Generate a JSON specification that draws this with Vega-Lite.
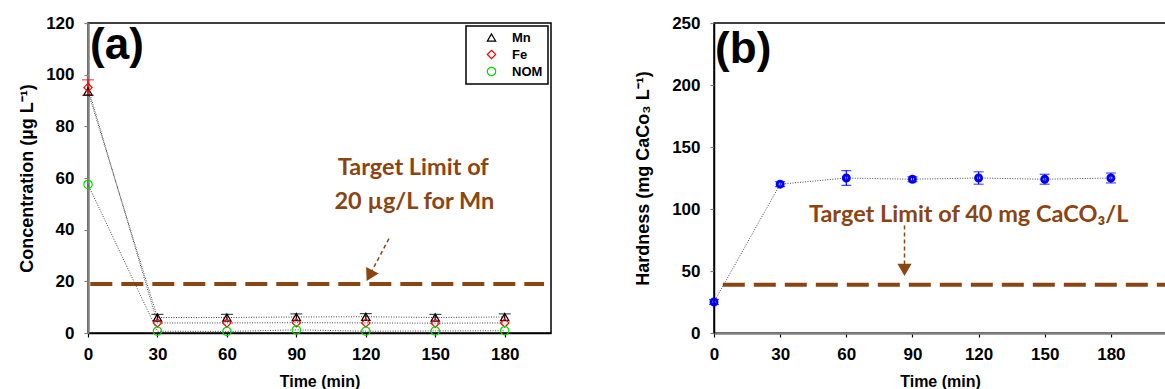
{
  "$schema": "https://vega.github.io/schema/vega-lite/v6.json",
  "background": "white",
  "padding": {"left": 17, "top": 13, "right": 0, "bottom": 0},
  "autosize": {"type": "pad"},
  "spacing": 163,
  "bounds": "flush",
  "config": {
    "view": {"stroke": "black", "strokeWidth": 1.5},
    "axis": {
      "grid": false,
      "labelFont": "Liberation Sans", "labelFontWeight": "bold", "labelFontSize": 17, "labelColor": "black",
      "titleFont": "Liberation Sans", "titleFontWeight": "bold", "titleFontSize": 16, "titleColor": "black",
      "tickSize": 4, "labelFlush": false, "labelOverlap": false
    },
    "legend": {
      "orient": "none", "legendX": 378, "legendY": 3,
      "strokeColor": "black", "strokeWidth": 1.5, "fillColor": "white", "padding": 5, "title": null,
      "labelFont": "Liberation Sans", "labelFontWeight": "bold", "labelFontSize": 13, "labelColor": "black",
      "symbolSize": 70, "symbolStrokeWidth": 1.2, "rowPadding": 2, "symbolOffset": 14, "labelOffset": 14,
      "symbolFillColor": "white"
    }
  },
  "datasets": {
    "conc": [
      {"t": 0, "v": 93.5, "series": "Mn"},
      {"t": 30, "v": 6, "series": "Mn", "lo": 5, "hi": 7.2},
      {"t": 60, "v": 6, "series": "Mn", "lo": 5, "hi": 7.2},
      {"t": 90, "v": 6.2, "series": "Mn", "lo": 5.2, "hi": 7.4},
      {"t": 120, "v": 6.3, "series": "Mn", "lo": 5.3, "hi": 7.5},
      {"t": 150, "v": 6, "series": "Mn", "lo": 5, "hi": 7.2},
      {"t": 180, "v": 6.2, "series": "Mn", "lo": 5.2, "hi": 7.4},
      {"t": 0, "v": 95, "series": "Fe", "lo": 92, "hi": 98},
      {"t": 30, "v": 3.9, "series": "Fe"},
      {"t": 60, "v": 3.9, "series": "Fe"},
      {"t": 90, "v": 4, "series": "Fe"},
      {"t": 120, "v": 3.9, "series": "Fe"},
      {"t": 150, "v": 3.8, "series": "Fe"},
      {"t": 180, "v": 3.9, "series": "Fe"},
      {"t": 0, "v": 57.5, "series": "NOM"},
      {"t": 30, "v": 0.7, "series": "NOM"},
      {"t": 60, "v": 0.6, "series": "NOM"},
      {"t": 90, "v": 1.2, "series": "NOM"},
      {"t": 120, "v": 0.7, "series": "NOM"},
      {"t": 150, "v": 0.8, "series": "NOM"},
      {"t": 180, "v": 0.9, "series": "NOM"}
    ],
    "hard": [
      {"t": 0, "v": 25, "lo": 23, "hi": 27},
      {"t": 30, "v": 120, "lo": 118, "hi": 122},
      {"t": 60, "v": 125, "lo": 119, "hi": 131},
      {"t": 90, "v": 124, "lo": 122, "hi": 126},
      {"t": 120, "v": 125, "lo": 120, "hi": 130},
      {"t": 150, "v": 124, "lo": 120, "hi": 128},
      {"t": 180, "v": 125, "lo": 121, "hi": 129}
    ],
    "limA": [{"t": 1, "t2": 197, "v": 19}],
    "arrA": [{"t": 130, "v": 36.5, "t2": 122.6, "v2": 24}],
    "headA": [{"t": 121.6, "v": 22.2}],
    "txtA": [
      {"t": 140.5, "v": 64, "label": "Target Limit of"},
      {"t": 141, "v": 50.9, "label": "20 µg/L for Mn"}
    ],
    "tagA": [{"t": 0.9, "v": 106, "label": "(a)"}],
    "limB": [{"t": 4, "t2": 205, "v": 39}],
    "arrB": [{"t": 86.4, "v": 86.6, "t2": 86.4, "v2": 52}],
    "headB": [{"t": 86.4, "v": 51}],
    "txtB": [{"t": 115.5, "v": 95.5, "label": "Target Limit of 40 mg CaCO₃/L"}],
    "tagB": [{"t": 0.5, "v": 218, "label": "(b)"}]
  },
  "hconcat": [
    {
      "width": 463,
      "height": 310,
      "encoding": {
        "x": {
          "field": "t", "type": "quantitative",
          "scale": {"domain": [0, 200], "nice": false, "zero": false},
          "axis": {
            "values": [0, 30, 60, 90, 120, 150, 180], "title": "Time (min)",
            "domainColor": "black", "domainWidth": 1.5, "tickColor": "black", "tickWidth": 1.2,
            "labelPadding": 9, "titleY": 53, "titleBaseline": "alphabetic"
          }
        },
        "y": {
          "field": "v", "type": "quantitative",
          "scale": {"domain": [0, 120], "nice": false},
          "axis": {
            "values": [0, 20, 40, 60, 80, 100, 120], "title": "Concentration (µg L⁻¹)",
            "domainColor": "#808080", "domainWidth": 2.5, "tickColor": "#808080", "tickWidth": 1.2,
            "labelPadding": 10, "titleX": -61, "titleBaseline": "middle", "titleFontSize": 18
          }
        }
      },
      "layer": [
        {
          "data": {"name": "limA"},
          "mark": {"type": "rule", "color": "#8B4513", "strokeWidth": 4, "strokeDash": [22, 9]},
          "encoding": {"x2": {"field": "t2"}}
        },
        {
          "data": {"name": "arrA"},
          "mark": {"type": "rule", "color": "#8B4513", "strokeWidth": 1.5, "strokeDash": [4, 3]},
          "encoding": {"x2": {"field": "t2"}, "y2": {"field": "v2"}}
        },
        {
          "data": {"name": "headA"},
          "mark": {"type": "point", "shape": "triangle-down", "filled": true, "color": "#8B4513", "opacity": 1, "size": 200, "angle": 28}
        },
        {
          "data": {"name": "txtA"},
          "mark": {"type": "text", "font": "Lato", "fontWeight": "bold", "fontSize": 23.5, "color": "#8B4513", "align": "center", "baseline": "middle"},
          "encoding": {"text": {"field": "label"}}
        },
        {
          "data": {"name": "tagA"},
          "mark": {"type": "text", "font": "Liberation Sans", "fontWeight": "bold", "fontSize": 44, "color": "black", "align": "left", "baseline": "alphabetic"},
          "encoding": {"text": {"field": "label"}}
        },
        {
          "data": {"name": "conc"},
          "mark": {"type": "line", "color": "#444444", "strokeWidth": 1, "strokeDash": [1, 1.5]},
          "encoding": {"detail": {"field": "series"}}
        },
        {
          "data": {"name": "conc"},
          "transform": [{"filter": "datum.series === 'Mn' && isValid(datum.lo)"}],
          "mark": {"type": "rule", "strokeWidth": 1.2, "color": "black"},
          "encoding": {"y": {"field": "lo", "type": "quantitative"}, "y2": {"field": "hi"}}
        },
        {
          "data": {"name": "conc"},
          "transform": [{"filter": "datum.series === 'Mn' && isValid(datum.lo)"}],
          "mark": {"type": "tick", "orient": "horizontal", "size": 12, "thickness": 1.2, "color": "black"},
          "encoding": {"y": {"field": "hi", "type": "quantitative"}}
        },
        {
          "data": {"name": "conc"},
          "transform": [{"filter": "datum.series === 'Fe' && isValid(datum.lo)"}],
          "mark": {"type": "rule", "strokeWidth": 1.2, "color": "#ff0000"},
          "encoding": {"y": {"field": "lo", "type": "quantitative"}, "y2": {"field": "hi"}}
        },
        {
          "data": {"name": "conc"},
          "transform": [{"filter": "datum.series === 'Fe' && isValid(datum.lo)"}],
          "mark": {"type": "tick", "orient": "horizontal", "size": 12, "thickness": 1.2, "color": "#ff0000"},
          "encoding": {"y": {"field": "lo", "type": "quantitative"}}
        },
        {
          "data": {"name": "conc"},
          "transform": [{"filter": "datum.series === 'Fe' && isValid(datum.lo)"}],
          "mark": {"type": "tick", "orient": "horizontal", "size": 12, "thickness": 1.2, "color": "#ff0000"},
          "encoding": {"y": {"field": "hi", "type": "quantitative"}}
        },
        {
          "data": {"name": "conc"},
          "mark": {"type": "point", "filled": false, "size": 70, "strokeWidth": 1.2, "opacity": 1},
          "encoding": {
            "color": {"field": "series", "type": "nominal", "scale": {"domain": ["Mn", "Fe", "NOM"], "range": ["black", "#ff0000", "#00dd00"]}},
            "shape": {"field": "series", "type": "nominal", "scale": {"domain": ["Mn", "Fe", "NOM"], "range": ["triangle-up", "diamond", "circle"]}}
          }
        }
      ]
    },
    {
      "width": 452,
      "height": 310,
      "encoding": {
        "x": {
          "field": "t", "type": "quantitative",
          "scale": {"domain": [0, 205], "nice": false, "zero": false},
          "axis": {
            "values": [0, 30, 60, 90, 120, 150, 180], "title": "Time (min)",
            "domainColor": "#808080", "domainWidth": 2.5, "tickColor": "black", "tickWidth": 1.2,
            "labelPadding": 9, "titleY": 53, "titleBaseline": "alphabetic", "titleX": 226
          }
        },
        "y": {
          "field": "v", "type": "quantitative",
          "scale": {"domain": [0, 250], "nice": false},
          "axis": {
            "values": [0, 50, 100, 150, 200, 250], "title": "Hardness (mg CaCo₃ L⁻¹)",
            "domainColor": "black", "domainWidth": 1.5, "tickColor": "#808080", "tickWidth": 1.2,
            "labelPadding": 10, "titleX": -71, "titleBaseline": "middle", "titleFontSize": 18
          }
        }
      },
      "layer": [
        {
          "data": {"name": "limB"},
          "mark": {"type": "rule", "color": "#8B4513", "strokeWidth": 4, "strokeDash": [22, 9]},
          "encoding": {"x2": {"field": "t2"}}
        },
        {
          "data": {"name": "arrB"},
          "mark": {"type": "rule", "color": "#8B4513", "strokeWidth": 1.5, "strokeDash": [4, 3]},
          "encoding": {"x2": {"field": "t2"}, "y2": {"field": "v2"}}
        },
        {
          "data": {"name": "headB"},
          "mark": {"type": "point", "shape": "triangle-down", "filled": true, "color": "#8B4513", "opacity": 1, "size": 200}
        },
        {
          "data": {"name": "txtB"},
          "mark": {"type": "text", "font": "Lato", "fontWeight": "bold", "fontSize": 23.5, "color": "#8B4513", "align": "center", "baseline": "middle"},
          "encoding": {"text": {"field": "label"}}
        },
        {
          "data": {"name": "tagB"},
          "mark": {"type": "text", "font": "Liberation Sans", "fontWeight": "bold", "fontSize": 44, "color": "black", "align": "left", "baseline": "alphabetic"},
          "encoding": {"text": {"field": "label"}}
        },
        {
          "data": {"name": "hard"},
          "mark": {"type": "line", "color": "#444466", "strokeWidth": 1, "strokeDash": [1, 1.5]}
        },
        {
          "data": {"name": "hard"},
          "mark": {"type": "rule", "color": "#0000ff", "strokeWidth": 1.2},
          "encoding": {"y": {"field": "lo", "type": "quantitative"}, "y2": {"field": "hi"}}
        },
        {
          "data": {"name": "hard"},
          "mark": {"type": "tick", "orient": "horizontal", "size": 10, "thickness": 1.2, "color": "#0000ff"},
          "encoding": {"y": {"field": "lo", "type": "quantitative"}}
        },
        {
          "data": {"name": "hard"},
          "mark": {"type": "tick", "orient": "horizontal", "size": 10, "thickness": 1.2, "color": "#0000ff"},
          "encoding": {"y": {"field": "hi", "type": "quantitative"}}
        },
        {
          "data": {"name": "hard"},
          "mark": {"type": "point", "shape": "circle", "filled": false, "size": 35, "strokeWidth": 3, "color": "#0000ff", "opacity": 1}
        }
      ]
    }
  ]
}
